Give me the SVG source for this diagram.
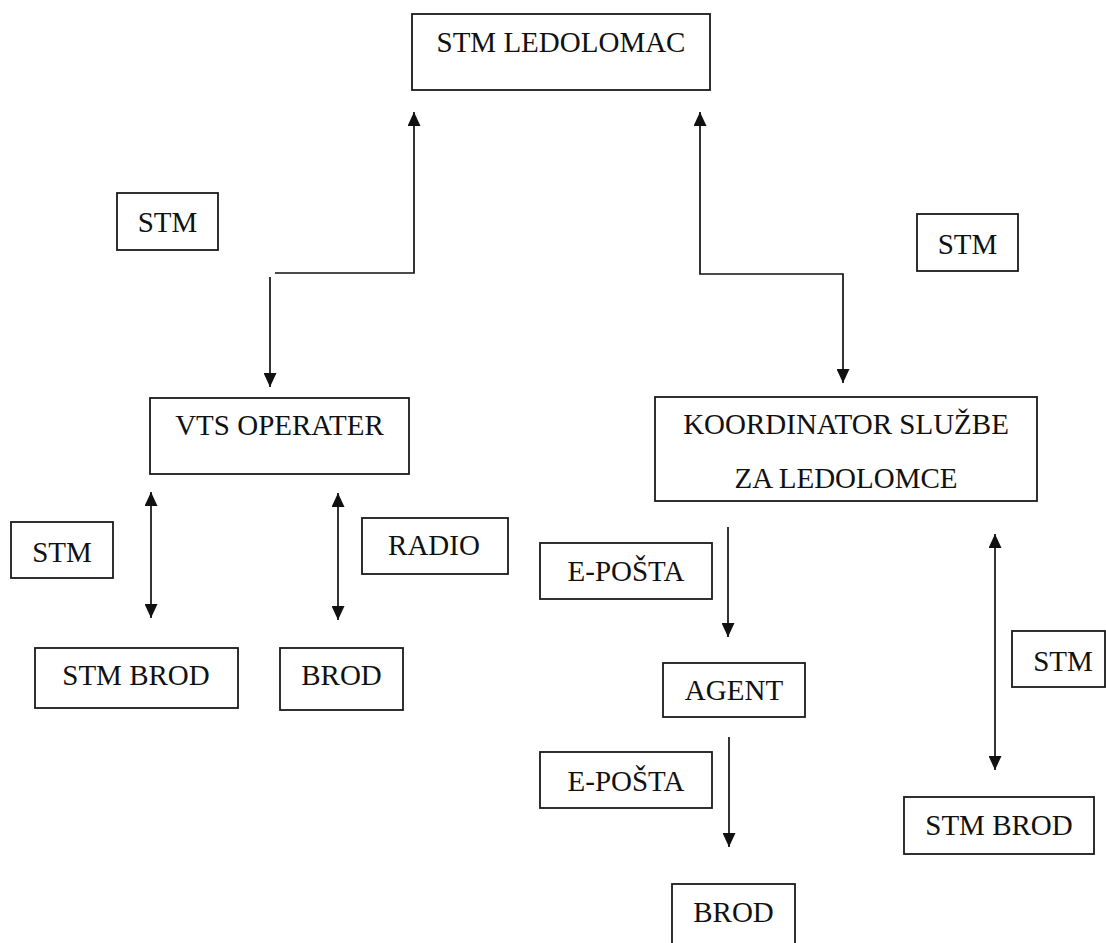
<svg xmlns="http://www.w3.org/2000/svg" width="1106" height="943" viewBox="0 0 1106 943">
<style>
.box{fill:#fff;stroke:#1a1a1a;stroke-width:1.8}
.t{font-family:'Liberation Serif','Times New Roman',serif;font-size:29px;fill:#111;text-anchor:middle}
.c{fill:none;stroke:#111;stroke-width:1.7}
</style>
<defs>
<marker id="ah" viewBox="0 0 14 13" refX="14" refY="6.5" markerWidth="14" markerHeight="13" markerUnits="userSpaceOnUse" orient="auto-start-reverse">
<path d="M0,0 L14,6.5 L0,13 z" fill="#111"/>
</marker>
</defs>
<rect width="1106" height="943" fill="#fff"/>
<g id="connectors">
<path class="c" d="M275,273 H414 V112" marker-end="url(#ah)"/>
<path class="c" d="M270,277 V387" marker-end="url(#ah)"/>
<path class="c" d="M700,112 V274 H843 V383" marker-start="url(#ah)" marker-end="url(#ah)"/>
<path class="c" d="M151,492 V618" marker-start="url(#ah)" marker-end="url(#ah)"/>
<path class="c" d="M338,493 V620" marker-start="url(#ah)" marker-end="url(#ah)"/>
<path class="c" d="M728,527 V637" marker-end="url(#ah)"/>
<path class="c" d="M729,737 V847" marker-end="url(#ah)"/>
<path class="c" d="M995,534 V770" marker-start="url(#ah)" marker-end="url(#ah)"/>
</g>
<g id="stm-ledolomac"><rect class="box" x="412" y="14" width="298" height="76"/><text class="t" x="561" y="52">STM LEDOLOMAC</text></g>
<g id="label-stm-1"><rect class="box" x="117" y="193" width="101" height="57"/><text class="t" x="167.5" y="232">STM</text></g>
<g id="label-stm-2"><rect class="box" x="917" y="214" width="101" height="57"/><text class="t" x="967.5" y="254">STM</text></g>
<g id="vts-operater"><rect class="box" x="150" y="398" width="259" height="76"/><text class="t" x="279.5" y="435">VTS OPERATER</text></g>
<g id="koordinator"><rect class="box" x="655" y="397" width="382" height="104"/><text class="t" x="846" y="434">KOORDINATOR SLUŽBE</text><text class="t" x="846" y="488">ZA LEDOLOMCE</text></g>
<g id="label-stm-3"><rect class="box" x="11" y="522" width="102" height="56"/><text class="t" x="62" y="562">STM</text></g>
<g id="label-radio"><rect class="box" x="362" y="518" width="146" height="56"/><text class="t" x="434" y="555">RADIO</text></g>
<g id="stm-brod-1"><rect class="box" x="35" y="648" width="203" height="60"/><text class="t" x="136" y="685">STM BROD</text></g>
<g id="brod-1"><rect class="box" x="280" y="648" width="123" height="62"/><text class="t" x="341.5" y="685">BROD</text></g>
<g id="label-eposta-1"><rect class="box" x="540" y="543" width="172" height="56"/><text class="t" x="626" y="581">E-POŠTA</text></g>
<g id="agent"><rect class="box" x="663" y="663" width="142" height="54"/><text class="t" x="734" y="700">AGENT</text></g>
<g id="label-stm-4"><rect class="box" x="1012" y="631" width="93" height="56"/><text class="t" x="1063" y="671">STM</text></g>
<g id="label-eposta-2"><rect class="box" x="540" y="752" width="172" height="56"/><text class="t" x="626" y="791">E-POŠTA</text></g>
<g id="stm-brod-2"><rect class="box" x="904" y="797" width="190" height="57"/><text class="t" x="999" y="835">STM BROD</text></g>
<g id="brod-2"><rect class="box" x="672" y="884" width="123" height="70"/><text class="t" x="733.5" y="922">BROD</text></g>
</svg>
